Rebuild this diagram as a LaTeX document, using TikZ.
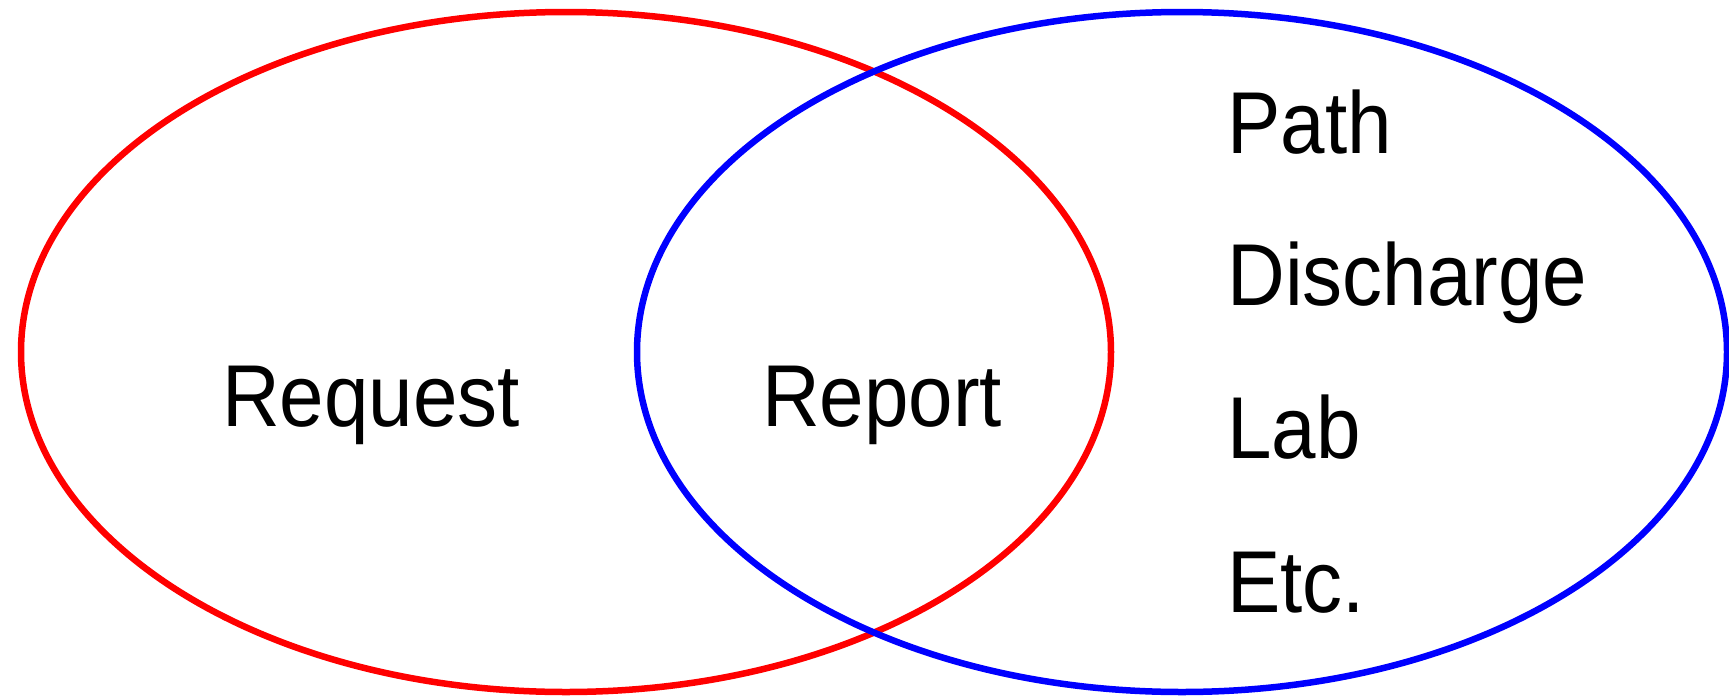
\documentclass[tikz,border=0pt]{standalone}
\definecolor{vennred}{RGB}{255,0,0}
\definecolor{vennblue}{RGB}{0,0,255}
\usepackage{fontspec}
\newfontfamily\vennfont[FakeStretch=0.91]{Liberation Sans}
\usepackage{tikz}
\usetikzlibrary{positioning}

\begin{document}
\begin{tikzpicture}[x=0.02cm, y=-0.02cm,
			set/.style={line width=0.13cm},
			lbl/.style={font=\vennfont\fontsize{50}{58}\selectfont, inner sep=0pt}]
			\useasboundingbox (0,0) rectangle (1729,697);
			\draw[set, vennred] (566,352) ellipse [x radius=545, y radius=340];
			\draw[set, vennblue] (1182,352) ellipse [x radius=545, y radius=340];
			\node[lbl, anchor=base] (req) at (371,426) {Request};
			\node[lbl, anchor=base] (rep) at (882,426) {Report};
			\node[lbl, anchor=base west] (path) at (1227,153) {Path};
			\node[lbl, anchor=base west] (dis) at (1227,305) {Discharge};
			\node[lbl, anchor=base west] (lab) at (1227,458) {Lab};
			\node[lbl, anchor=base west] (etc) at (1227,612) {Etc.};
		\end{tikzpicture}
\end{document}
